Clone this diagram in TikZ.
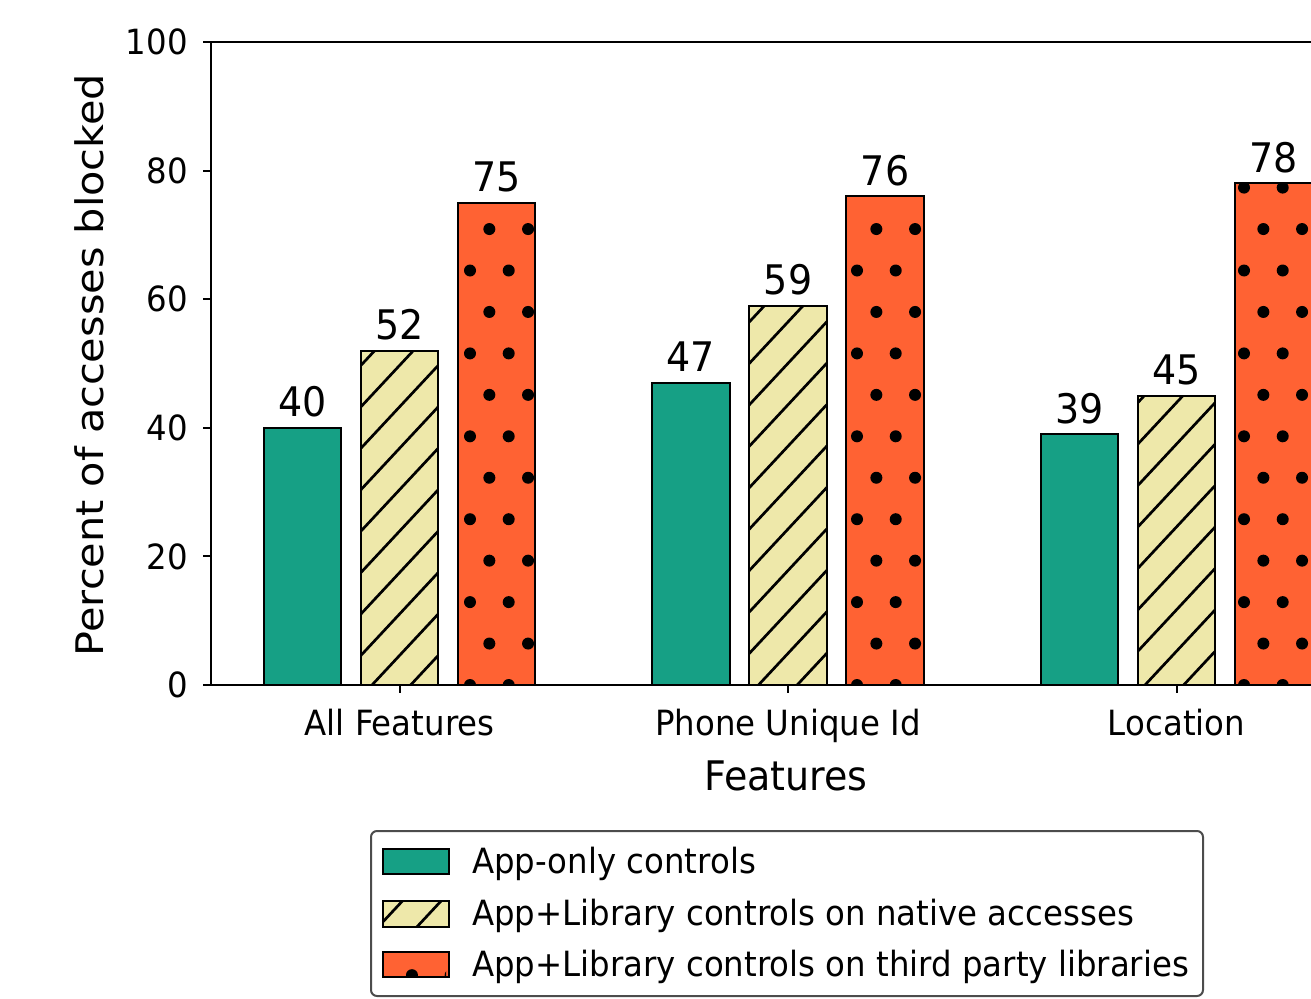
\documentclass[tikz,border=0pt]{standalone}
\usepackage{fontspec}
\setmainfont{DejaVu Sans}
\usepackage{graphicx}
\definecolor{cteal}{HTML}{16A085}
\definecolor{cyel}{HTML}{EEE8AA}
\definecolor{cred}{HTML}{FF6233}
\newcommand{\vs}[1]{\scalebox{1}[1.072]{#1}}
\newcommand{\hs}[1]{\scalebox{1.072}[1]{#1}}
% hatch lines (figure-anchored), to be used inside a clip
\newcommand{\myhatch}{%
  \foreach \k in {-14,...,26} {
    \draw[hatchline] ({372+38.65*\k-300},{685+321.6}) -- ({372+38.65*\k+640},{685-686.1});
  }}
% dot grid (figure-anchored), to be used inside a clip
\newcommand{\mydots}{%
  \foreach \r in {-8,...,13} {
    \foreach \m in {-2,...,23} {
      \fill[black] ({470+19.35*mod(abs(\r),2)+38.7*\m},{685-41.45*\r}) circle (6pt);
    }
  }}
\begin{document}
\begin{tikzpicture}[x=1pt,y=-1pt,
  tick/.style={font=\fontsize{32.4}{38}\selectfont, inner sep=0pt},
  big/.style={font=\fontsize{38}{45}\selectfont, inner sep=0pt},
  baredge/.style={draw=black, line width=2pt},
  hatchline/.style={draw=black, line width=2.7pt},
  spine/.style={draw=black, line width=2pt, line cap=rect},
  ticklen/.style={draw=black, line width=2pt},
  legframe/.style={draw=black!70, fill=white, line width=2pt, rounded corners=6pt},
]
\useasboundingbox (0,0) rectangle (1311,998);

% ---------- bars ----------
\foreach \g/\a/\b/\c/\lab in {0/40/52/75/All Features, 1/47/59/76/Phone Unique Id, 2/39/45/78/Location} {
  \pgfmathsetmacro\gc{399.5+388.5*\g}
  \pgfmathsetmacro\ta{685-6.43*\a}
  \pgfmathsetmacro\tb{685-6.43*\b}
  \pgfmathsetmacro\tc{685-6.43*\c}
  % teal
  \fill[cteal] ({\gc-97.1-38.85},685) rectangle ({\gc-97.1+38.85},\ta);
  \draw[baredge] ({\gc-97.1-38.85},685) rectangle ({\gc-97.1+38.85},\ta);
  % yellow hatched
  \fill[cyel] ({\gc-38.85},685) rectangle ({\gc+38.85},\tb);
  \begin{scope}
    \clip ({\gc-38.85},685) rectangle ({\gc+38.85},\tb);
    \myhatch
  \end{scope}
  \draw[baredge] ({\gc-38.85},685) rectangle ({\gc+38.85},\tb);
  % red dotted
  \fill[cred] ({\gc+97.1-38.85},685) rectangle ({\gc+97.1+38.85},\tc);
  \begin{scope}
    \clip ({\gc+97.1-38.85},685) rectangle ({\gc+97.1+38.85},\tc);
    \mydots
  \end{scope}
  \draw[baredge] ({\gc+97.1-38.85},685) rectangle ({\gc+97.1+38.85},\tc);
  % value labels
  \node[big, anchor=base] (va\g) at ({\gc-97.1},{\ta-11}) {\vs{\a}};
  \node[big, anchor=base] (vb\g) at ({\gc},{\tb-11}) {\vs{\b}};
  \node[big, anchor=base] (vc\g) at ({\gc+97.1},{\tc-11}) {\vs{\c}};
  % x tick and label
  \draw[ticklen] (\gc,685) -- (\gc,693);
  \node[tick, anchor=base] (xt\g) at (\gc,735) {\vs{\lab}};
}

% ---------- axes ----------
\draw[spine] (1320,42) -- (211,42) -- (211,685) -- (1320,685);
\foreach \v in {0,20,40,60,80,100} {
  \draw[ticklen] (203,{685-6.43*\v}) -- (211,{685-6.43*\v});
  \node[tick, anchor=east] (yt\v) at (188,{685-6.43*\v}) {\vs{\v}};
}
\node[big, anchor=base] (xlab) at (786,790) {\vs{Features}};
\node[big, anchor=base, rotate=90] (ylab) at (103,365) {\scalebox{1.09}[1]{Percent of accesses blocked}};

% ---------- legend ----------
\draw[legframe] (371,831) rectangle (1203,996);
\fill[cteal] (383,849) rectangle (449,874);
\draw[baredge] (383,849) rectangle (449,874);
\fill[cyel] (383,901) rectangle (449,927);
\begin{scope}
  \clip (383,901) rectangle (449,927);
  \myhatch
\end{scope}
\draw[baredge] (383,901) rectangle (449,927);
\fill[cred] (383,952) rectangle (449,977);
\begin{scope}
  \clip (383,952) rectangle (446,977);
  \mydots
\end{scope}
\draw[baredge] (383,952) rectangle (449,977);
\node[tick, anchor=base west] (l1) at (472,873) {\vs{App-only controls}};
\node[tick, anchor=base west] (l2) at (472,925.5) {\vs{App+Library controls on native accesses}};
\node[tick, anchor=base west] (l3) at (472,976) {\vs{App+Library controls on third party libraries}};
\end{tikzpicture}
\end{document}
